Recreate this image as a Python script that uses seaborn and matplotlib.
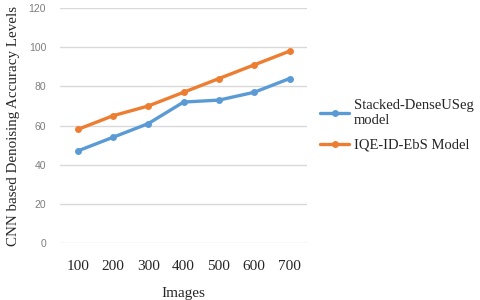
import matplotlib
matplotlib.use('Agg')
import matplotlib.pyplot as plt
import seaborn as sns
import pandas as pd

# Chart values
images = [100, 200, 300, 400, 500, 600, 700]
stacked_dense = [47, 54, 61, 72, 73, 77, 84]
iqe_model = [58, 65, 70, 77, 84, 91, 98]
series_names = ['Stacked-DenseUSeg\nmodel', 'IQE-ID-EbS Model']
y_ticks = [0, 20, 40, 60, 80, 100, 120]

# Long-form table for seaborn
df = pd.DataFrame({
    'pos': list(range(len(images))) * 2,
    'value': stacked_dense + iqe_model,
    'series': [series_names[0]] * len(images) + [series_names[1]] * len(images),
})

sns.set_style('white')
plt.rcParams['font.family'] = ['Liberation Serif', 'DejaVu Serif']

fig = plt.figure(figsize=(4.8, 3.0), dpi=100)
ax = fig.add_axes([0.125, 0.19, 0.515, 0.783])

sns.lineplot(data=df, x='pos', y='value', hue='series',
             palette=['#5B9BD5', '#ED7D31'], marker='o', markersize=5,
             markeredgewidth=0, linewidth=2.4, ax=ax)

ax.set_xlim(-0.5, len(images) - 0.5)
ax.set_ylim(0, 120)
ax.set_yticks(y_ticks)
ax.set_xticks(range(len(images)))
ax.set_xticklabels([str(v) for v in images], fontsize=11)
ax.set_yticklabels([str(v) for v in y_ticks], fontsize=7.5, color='#7f7f7f',
                   family='Liberation Sans')
ax.grid(axis='y', color='#d9d9d9', linewidth=1)
ax.tick_params(axis='both', length=0)
ax.tick_params(axis='x', pad=12)
ax.tick_params(axis='y', pad=10)
for s in ax.spines.values():
    s.set_visible(False)

ax.set_xlabel('Images', fontsize=11, labelpad=10)
ax.set_ylabel('CNN based Denoising Accuracy Levels', fontsize=10.8, labelpad=6)

handles, labels = ax.get_legend_handles_labels()
ax.legend(handles, labels, loc='center left', bbox_to_anchor=(1.0, 0.5),
          frameon=False, fontsize=10.5, handlelength=2.0, labelspacing=0.8,
          handletextpad=0.3)

fig.savefig('out.png', dpi=100)
